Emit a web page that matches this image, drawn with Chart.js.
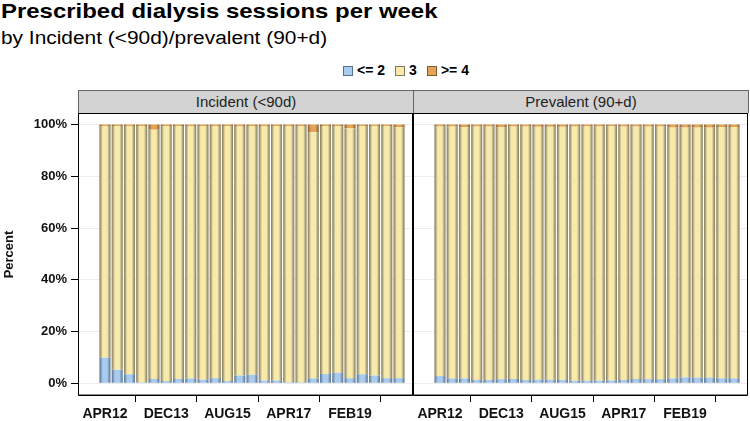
<!DOCTYPE html>
<html><head><meta charset="utf-8">
<script src="https://cdn.jsdelivr.net/npm/chart.js@4/dist/chart.umd.min.js"></script>
<style>
body{margin:0;width:750px;height:421px;overflow:hidden;background:#fff;font-family:"Liberation Sans",Arial,sans-serif;position:relative}
#title{position:absolute;left:1px;top:0px;font-weight:bold;font-size:21px;line-height:22px;white-space:nowrap;color:#000;transform-origin:0 0;transform:scaleX(1.14)}
#sub{position:absolute;left:1px;top:28px;font-size:18px;line-height:20px;white-space:nowrap;color:#000;transform-origin:0 0;transform:scaleX(1.16)}
#legend{position:absolute;left:56px;width:700px;top:62px;text-align:center;font-weight:bold;font-size:14px;line-height:16px;color:#000}
#legend span.item{display:inline-block;margin:0 5px;white-space:nowrap}
#legend span.sw{display:inline-block;width:10px;height:10px;vertical-align:-1px;margin-right:4px;box-sizing:border-box}
.hdr{position:absolute;top:90px;height:23px;width:336px;background:#d3d3d3;border:1px solid #666;border-bottom:none;text-align:center;font-size:15px;line-height:22px;color:#222;box-sizing:border-box}
.wrap{position:absolute;top:0}
</style>
</head><body>
<div id="title">Prescribed dialysis sessions per week</div>
<div id="sub">by Incident (&lt;90d)/prevalent (90+d)</div>
<div id="legend"></div>
<div class="wrap" style="left:0"><canvas id="c1" width="415" height="421"></canvas></div>
<div class="wrap" style="left:413px"><canvas id="c2" width="337" height="421"></canvas></div>
<div class="hdr" id="h1" style="left:78px"></div>
<div class="hdr" id="h2" style="left:413px"></div>
<script>
// ---- data ----
const categories = ['APR12','AUG12','DEC12','APR13','AUG13','DEC13','APR14','AUG14','DEC14','APR15',
  'AUG15','DEC15','APR16','AUG16','DEC16','APR17','AUG17','DEC17','JUN18','OCT18',
  'FEB19','JUN19','OCT19','FEB20','JUN20'];
const tickLabels = ['APR12','DEC13','AUG15','APR17','FEB19'];
const yTicks = [0,20,40,60,80,100];
const panelTitles = ['Incident (<90d)','Prevalent (90+d)'];
const seriesNames = ['<= 2','3','>= 4'];

const incidentLe2 = [9.9,5.2,3.5,0.4,1.7,0.9,1.7,1.9,1.4,2.0,0.9,3.0,3.3,1.1,1.1,0.4,0.4,1.9,3.6,4.1,2.0,3.5,3.0,2.0,2.0];
const incident3   = [89.5,94.2,95.9,99.0,96.3,98.5,97.7,97.5,98.0,97.4,98.5,96.4,96.1,98.3,98.3,99.0,99.0,95.1,95.8,95.3,96.5,95.9,96.4,97.4,96.9];
const incidentGe4 = [0.6,0.6,0.6,0.6,2.0,0.6,0.6,0.6,0.6,0.6,0.6,0.6,0.6,0.6,0.6,0.6,0.6,3.0,0.6,0.6,1.5,0.6,0.6,0.6,1.1];

const prevalentLe2 = [2.8,1.9,1.9,1.3,1.3,1.6,1.7,1.3,1.4,1.4,1.3,1.0,1.0,1.0,1.1,1.3,1.7,1.6,1.6,1.9,2.3,2.2,2.2,1.9,1.9];
const prevalent3   = [96.4,97.3,97.0,97.9,97.9,97.3,97.5,97.9,97.7,97.7,97.8,98.2,98.2,98.2,98.2,97.9,97.5,97.6,97.6,96.9,96.5,96.6,96.6,97.1,97.1];
const prevalentGe4 = [0.8,0.8,1.1,0.8,0.8,1.1,0.8,0.8,0.9,0.9,0.9,0.8,0.8,0.8,0.7,0.8,0.8,0.8,0.8,1.2,1.2,1.2,1.2,1.0,1.0];

// ---- styles ----
const FONT = '"Liberation Sans", Arial, sans-serif';
const colors = [
  {c:'#a9cbee', e:'#56718f'},
  {c:'#f8eaab', e:'#7f775a'},
  {c:'#e3a358', e:'#835c30'}
];
const BAR_FRAC = 0.9;

function grad(center, edge){
  return function(ctx){
    const chart = ctx.chart, xs = chart.scales && chart.scales.x;
    if(!xs || ctx.type !== 'data' || !ctx.raw) return center;
    const cx = xs.getPixelForValue(ctx.raw.x);
    const hw = Math.abs(xs.getPixelForValue(1) - xs.getPixelForValue(0)) * BAR_FRAC / 2;
    if(!isFinite(cx) || !isFinite(hw) || hw <= 0) return center;
    const g = chart.ctx.createLinearGradient(cx - hw, 0, cx + hw, 0);
    g.addColorStop(0, edge);
    g.addColorStop(0.3, center);
    g.addColorStop(0.7, center);
    g.addColorStop(1, edge);
    return g;
  };
}

function pts(arr){ return arr.map((v,i)=>({x:i, y:v})); }

const frame = {
  id:'frame',
  afterDatasetsDraw(chart){
    const a = chart.chartArea, c = chart.ctx;
    c.save();
    c.strokeStyle = '#000';
    c.lineWidth = 1;
    c.beginPath();
    c.moveTo(a.left + 0.5, a.top);
    c.lineTo(a.left + 0.5, a.bottom - 0.5);
    c.lineTo(a.right - 0.5, a.bottom - 0.5);
    c.lineTo(a.right - 0.5, a.top);
    c.stroke();
    c.beginPath();
    c.moveTo(a.left, a.bottom - 1.5);
    c.lineTo(a.right, a.bottom - 1.5);
    c.strokeStyle = 'rgba(0,0,0,0.45)';
    c.stroke();
    c.strokeStyle = '#000';
    c.beginPath();
    c.moveTo(a.left, a.top + 0.5);
    c.lineTo(a.right, a.top + 0.5);
    c.stroke();
    c.restore();
  }
};

function makeChart(id, series, showY, pad){
  const tickIdx = tickLabels.map(t => categories.indexOf(t));
  return new Chart(document.getElementById(id), {
    type:'bar',
    data:{
      datasets: series.map((s,k)=>({
        label: seriesNames[k],
        data: pts(s),
        backgroundColor: grad(colors[k].c, colors[k].e),
        borderWidth: 0,
        barPercentage: BAR_FRAC,
        categoryPercentage: 1
      }))
    },
    options:{
      responsive:false,
      animation:false,
      devicePixelRatio:1,
      layout:{padding:pad},
      plugins:{legend:{display:false}, tooltip:{enabled:false}},
      scales:{
        x:{
          type:'linear', stacked:true, offset:false,
          min:-2.2, max:25.14,
          afterBuildTicks: s => { s.ticks = tickIdx.map(v=>({value:v})); },
          afterFit: s => { s.height = 25; },
          ticks:{autoSkip:false, maxRotation:0, padding:4,
            font:{family:FONT, size:14, weight:'bold'}, color:'#111',
            callback: v => categories[v]},
          grid:{drawOnChartArea:false, drawTicks:true, tickLength:6, tickColor:'#000', color:'#000'},
          border:{display:false}
        },
        y:{
          stacked:true, min:-4.9, max:104.45,
          afterBuildTicks: s => { s.ticks = yTicks.map(v=>({value:v})); },
          afterFit: s => { s.width = showY ? 78 : 0; },
          ticks:{display:showY, padding:4,
            font:{family:FONT, size:13, weight:'bold'}, color:'#111',
            callback: v => v + '%'},
          grid:{color:'#ececec', drawTicks:showY, tickLength:7, tickColor:'#000'},
          border:{display:false},
          title:{display:showY, text:'Percent', color:'#111',
            font:{family:FONT, size:13, weight:'bold'}, padding:{top:2,bottom:2}}
        }
      }
    },
    plugins:[frame]
  });
}

makeChart('c1', [incidentLe2, incident3, incidentGe4], true, {top:113, right:2, bottom:0, left:0});
makeChart('c2', [prevalentLe2, prevalent3, prevalentGe4], false, {top:113, right:2, bottom:0, left:0});

document.getElementById('h1').textContent = panelTitles[0];
document.getElementById('h2').textContent = panelTitles[1];
const lg = document.getElementById('legend');
seriesNames.forEach((n,k)=>{
  const it = document.createElement('span'); it.className='item';
  const sw = document.createElement('span'); sw.className='sw';
  sw.style.background = colors[k].c; sw.style.border = '1px solid ' + colors[k].e;
  it.appendChild(sw); it.appendChild(document.createTextNode(n));
  lg.appendChild(it);
});
</script>
</body></html>
